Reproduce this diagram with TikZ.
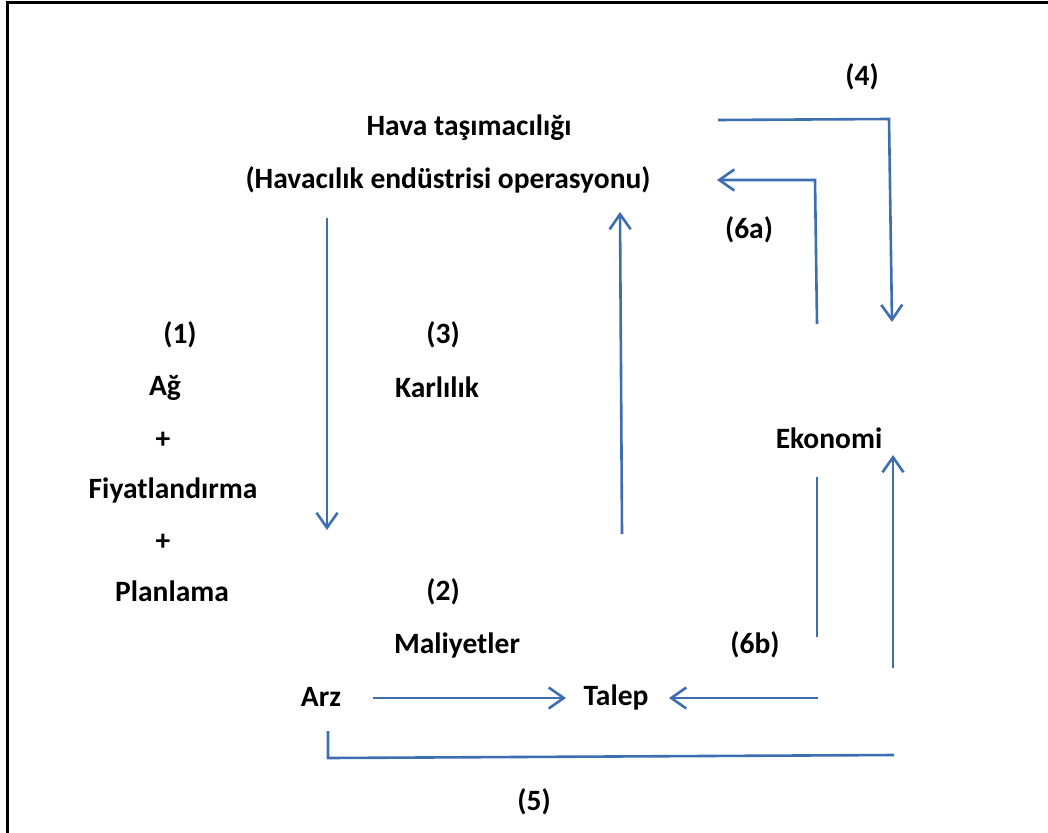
\documentclass[tikz,border=0pt]{standalone}
\usepackage{fontspec}
\setmainfont{Carlito}
\usetikzlibrary{arrows.meta, positioning}
\definecolor{flowblue}{RGB}{62,110,178}
\tikzstyle{lbl} = [font=\bfseries\fontsize{29.5}{34}\selectfont, inner sep=0pt]
\tikzstyle{flow} = [draw=flowblue, line width=2.6pt]

\begin{document}
\begin{tikzpicture}[x=1pt,y=-1pt,>={Straight Barb[length=15pt,width=21pt]}]
  \useasboundingbox (0,0) rectangle (1048,832);
  \draw [line width=3pt] (7,834) -- (7,3) -- (1050,3);
  \node [lbl] (hava) at (469,128) {Hava taşımacılığı};
  \node [lbl] (havaop) at (448,180) {(Havacılık endüstrisi operasyonu)};
  \node [lbl] (n4) at (862,77) {(4)};
  \node [lbl] (n6a) at (749,230) {(6a)};
  \node [lbl] (n1) at (180,335) {(1)};
  \node [lbl] (ag) at (165,388) {Ağ};
  \node [lbl, below of=ag, node distance=52pt, xshift=-2pt] (plusa) {+};
  \node [lbl] (fiyat) at (173,490) {Fiyatlandırma};
  \node [lbl, below of=plusa, node distance=102pt] (plusb) {+};
  \node [lbl] (plan) at (172,591) {Planlama};
  \node [lbl] (n3) at (443,335) {(3)};
  \node [lbl, below of=n3, node distance=52pt, xshift=-6pt] (karl) {Karlılık};
  \node [lbl] (n2) at (443,592) {(2)};
  \node [lbl] (maliyet) at (457,645) {Maliyetler};
  \node [lbl] (arz) at (321,697) {Arz};
  \node [lbl] (talep) at (616,697) {Talep};
  \node [lbl] (n6b) at (755,645) {(6b)};
  \node [lbl] (ekonomi) at (829,438) {Ekonomi};
  \node [lbl] (n5) at (534,802) {(5)};
  \coordinate (c4a) at (718,120);
  \coordinate (c4b) at (889,119);
  \coordinate (c4c) at (892,322);
  \coordinate (c6aa) at (817,324);
  \coordinate (c6ab) at (815,180);
  \coordinate (c6ac) at (717,180);
  \coordinate (downa) at (327,218);
  \coordinate (downb) at (327,530);
  \coordinate (upa) at (622,534);
  \coordinate (upb) at (620,212);
  \coordinate (arzr) at (373,698);
  \coordinate (talepl) at (566,698);
  \coordinate (talepr) at (669,698);
  \coordinate (c6ba) at (818,698);
  \coordinate (c6bb) at (817,637);
  \coordinate (c6bc) at (817,477);
  \coordinate (ekoa) at (893,668);
  \coordinate (ekob) at (893,455);
  \coordinate (c5a) at (328,731);
  \coordinate (c5b) at (328,758);
  \coordinate (c5c) at (894,755);
  \draw [flow, ->] (c4a) -- (c4b) -- (c4c);
  \draw [flow, ->] (c6aa) -- (c6ab) -- (c6ac);
  \draw [flow, ->] (downa) -- (downb);
  \draw [flow, ->] (upa) -- (upb);
  \draw [flow, ->] (arzr) -- (talepl);
  \draw [flow, ->] (c6ba) -- (talepr);
  \draw [flow] (c6bb) -- (c6bc);
  \draw [flow, ->] (ekoa) -- (ekob);
  \draw [flow] (c5a) -- (c5b) -- (c5c);
\end{tikzpicture}
\end{document}
